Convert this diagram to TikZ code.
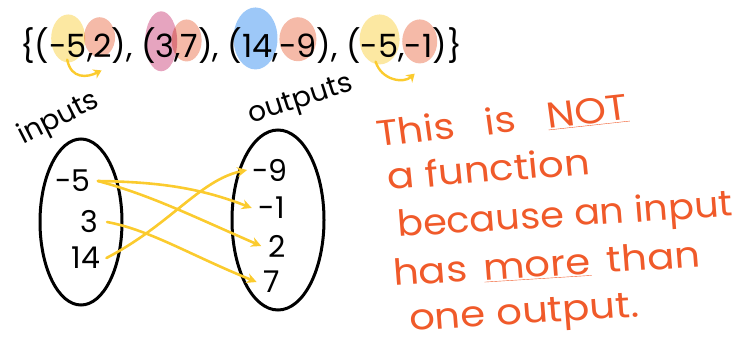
\documentclass[tikz,border=0pt]{standalone}
\usepackage{fontspec}
\setmainfont{Poppins}
\usetikzlibrary{shapes.geometric,arrows.meta,backgrounds}
\definecolor{yel}{HTML}{FBCB2E}
\definecolor{yblob}{HTML}{FCE8A2}
\definecolor{sblob}{HTML}{F5BAA8}
\definecolor{mblob}{HTML}{E6A4BF}
\definecolor{bblob}{HTML}{9DC8F8}
\definecolor{redt}{HTML}{F05A2A}
\tikzset{
  blob/.style={ellipse, inner sep=0pt},
  tok/.style={inner sep=0pt, outer sep=0pt, anchor=base west, font=\fontsize{32}{36}\selectfont},
  num/.style={inner sep=1pt, font=\fontsize{30}{32}\selectfont},
  setbox/.style={ellipse, draw=black, line width=3pt, inner sep=0pt},
  yarrow/.style={draw=yel, line width=2.6pt, line cap=round, -{Stealth[length=10pt,width=10pt]}},
  small arrow/.style={draw=yel, line width=2.4pt, line cap=round, -{Stealth[length=8pt,width=10pt]}},
  hand/.style={text=redt, inner sep=0pt, anchor=base west, xscale=1.12, font=\fontsize{36}{38}\selectfont},
  label/.style={inner sep=0pt, font=\fontsize{28}{30}\selectfont}
}
\begin{document}
\begin{tikzpicture}[x=1pt,y=-1pt]
\useasboundingbox (0,0) rectangle (743,345);
% set of pairs, as a chain of tokens
\node[tok] (t0) at (20,57) {\{(};
\node[tok] (t1) at (t0.base east) {-5};
\node[tok] (t2) at (t1.base east) {,};
\node[tok] (t3) at (t2.base east) {2};
\node[tok] (t4) at (t3.base east) {),\ (};
\node[tok] (t5) at (t4.base east) {3};
\node[tok] (t6) at (t5.base east) {,};
\node[tok] (t7) at (t6.base east) {7};
\node[tok] (t8) at (t7.base east) {),\ (};
\node[tok] (t9) at (t8.base east) {14};
\node[tok] (t10) at (t9.base east) {,};
\node[tok] (t11) at (t10.base east) {-9};
\node[tok] (t12) at (t11.base east) {),\ (};
\node[tok] (t13) at (t12.base east) {-5};
\node[tok] (t14) at (t13.base east) {,};
\node[tok] (t15) at (t14.base east) {-1};
\node[tok] (t16) at (t15.base east) {)\}};
% blobs behind
\begin{scope}[on background layer]
\begin{scope}[blend mode=multiply]
\node[blob, fill=yblob, minimum width=34pt, minimum height=48pt] (b1) at ([yshift=7pt]t1.center) {};
\node[blob, fill=sblob, minimum width=31pt, minimum height=40pt] (b2) at ([xshift=-3pt,yshift=8pt]t3.center) {};
\node[blob, fill=mblob, minimum width=32pt, minimum height=60pt] (b3) at ([xshift=-4pt,yshift=4pt]t5.center) {};
\node[blob, fill=sblob, minimum width=30pt, minimum height=42pt] (b4) at ([xshift=-3pt,yshift=5pt]t7.center) {};
\node[blob, fill=bblob, minimum width=44pt, minimum height=62pt] (b5) at ([xshift=-2pt,yshift=7pt]t9.center) {};
\node[blob, fill=sblob, minimum width=37pt, minimum height=44pt] (b6) at ([yshift=6pt]t11.center) {};
\node[blob, fill=yblob, minimum width=40pt, minimum height=50pt] (b7) at ([yshift=6pt]t13.center) {};
\node[blob, fill=sblob, minimum width=35pt, minimum height=44pt] (b8) at ([xshift=1pt,yshift=4pt]t15.center) {};
\end{scope}
\end{scope}
\draw[small arrow] ([xshift=-1pt,yshift=3pt]b1.south) .. controls ([xshift=3pt,yshift=-17pt]b1.south) and ([xshift=-12pt,yshift=-20pt]b2.south) .. ([xshift=2pt,yshift=-13pt]b2.south);
\draw[small arrow] ([xshift=-4pt,yshift=3pt]b7.south) .. controls ([xshift=2pt,yshift=-16pt]b7.south) and ([xshift=-16pt,yshift=-20pt]b8.south) .. ([xshift=-5pt,yshift=-10pt]b8.south);
% labels
\node[label, rotate=27] (inlab) at (59,119) {inputs};
\node[label, rotate=18] (outlab) at (301,101) {outputs};
% sets
\node[setbox, minimum width=82pt, minimum height=166pt] (inset) at (81,222) {};
\node[setbox, minimum width=92pt, minimum height=180pt] (outset) at (278,220) {};
% numbers
\node[num] (i1) at (73,181) {-5};
\node[num] (i2) at (89,222) {3};
\node[num] (i3) at (86,258) {14};
\node[num] (o1) at (270,170) {-9};
\node[num] (o2) at (272,208) {-1};
\node[num] (o3) at (277,246) {2};
\node[num] (o4) at (272,282) {7};
% mapping arrows
\draw[yarrow] ([xshift=6pt]i1.east) .. controls (160,182) and (200,188) .. ([xshift=-6pt]o2.west);
\draw[yarrow] ([xshift=6pt]i1.east) .. controls (150,195) and (190,215) .. ([xshift=-6pt]o3.west);
\draw[yarrow] ([xshift=8pt]i2.east) .. controls (150,230) and (190,255) .. ([xshift=-6pt]o4.west);
\draw[yarrow] ([xshift=5pt]i3.east) .. controls (170,225) and (200,180) .. ([xshift=-4pt]o1.west);
% red text
\node[hand, rotate=7] (l1) at (378,147) {This\hspace{18pt} is\hspace{18pt} \underline{NOT}};
\node[hand, rotate=5] (l2) at (388,190) {a function};
\node[hand, rotate=4, xscale=0.95] (l3) at (398,237) {because an input};
\node[hand, rotate=4] (l4) at (394,286) {has\hspace{5pt} \underline{more}\hspace{5pt} than};
\node[hand, rotate=4] (l5) at (410,331) {one output.};
\end{tikzpicture}
\end{document}
